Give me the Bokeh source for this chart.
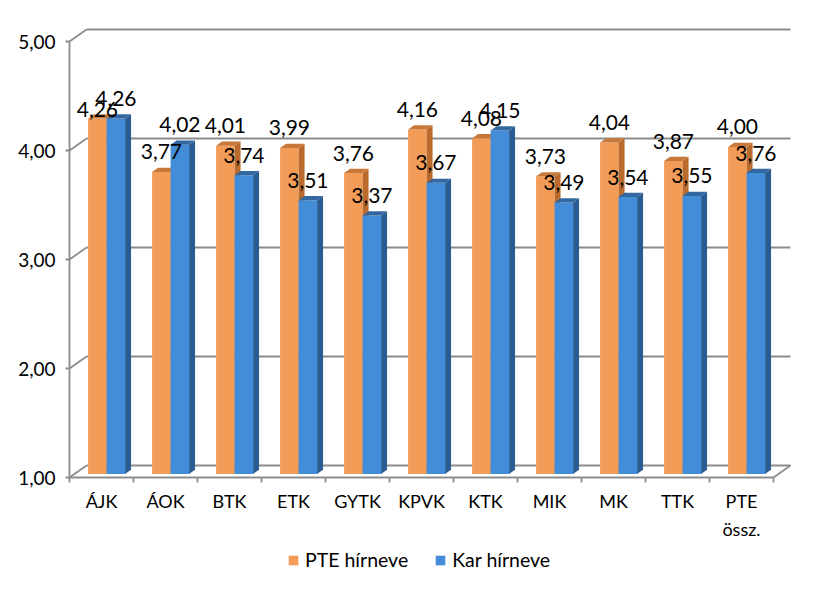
from bokeh.plotting import figure
from bokeh.models import Range1d, FixedTicker, Legend, LegendItem, ColumnDataSource
from bokeh.core.properties import value
from bokeh.embed import file_html
from bokeh.resources import INLINE

# ---- data ----
categories = ["ÁJK", "ÁOK", "BTK", "ETK", "GYTK", "KPVK", "KTK", "MIK", "MK", "TTK", "PTE\nössz."]
pte_hirneve = [4.26, 3.77, 4.01, 3.99, 3.76, 4.16, 4.08, 3.73, 4.04, 3.87, 4.00]
kar_hirneve = [4.26, 4.02, 3.74, 3.51, 3.37, 3.67, 4.15, 3.49, 3.54, 3.55, 3.76]
series_names = ["PTE hírneve", "Kar hírneve"]
y_ticks = [1, 2, 3, 4, 5]
y_tick_labels = ["1,00", "2,00", "3,00", "4,00", "5,00"]

# ---- style / geometry ----
FONT = "Lato"
PX_X = 64.0      # px per category
PX_Y = 109.0     # px per value unit
DEPTH_X = 17 / PX_X
DEPTH_Y = 12 / PX_Y
BAR_FRONT = 0.30   # bar front plane as fraction of box depth
BAR_DEPTH = 0.35   # bar depth as fraction of box depth
BAR_W = 18.5 / PX_X
GRID = "#8C8C8C"
ORANGE = ("#F29C57", "#B96A2C", "#C8793A")   # front, side, top
BLUE = ("#428CD8", "#2A5C92", "#33679F")
LABEL_OFFSET = -20
LABEL_OFFSET_OVERRIDE = {(0, 0): -9}

n = len(categories)
TOP = 24
FRAME_BOTTOM_PX = 585
x0, x1 = -4 / PX_X, n + 38 / PX_X
y1 = 5 + 17 / PX_Y
FW = int(round((x1 - x0) * PX_X))
FH = FRAME_BOTTOM_PX - TOP
y0 = y1 - FH / PX_Y

p = figure(frame_width=FW, frame_height=FH, output_backend="svg", toolbar_location=None,
           x_range=Range1d(x0, x1), y_range=Range1d(y0, y1),
           min_border_left=65, min_border_right=815 - 65 - FW,
           min_border_top=TOP, min_border_bottom=0)
p.outline_line_color = None
p.xgrid.visible = False
p.ygrid.visible = False
p.xaxis.visible = False
p.background_fill_color = "white"

# ---- walls, floor and axes lines ----
lx, ly = [], []
for v in y_ticks:
    lx.append([DEPTH_X, n + DEPTH_X]); ly.append([v + DEPTH_Y, v + DEPTH_Y])   # back wall grid
    lx.append([0, DEPTH_X]); ly.append([v, v + DEPTH_Y])                       # side wall grid
lx.append([n, n + DEPTH_X]); ly.append([1, 1 + DEPTH_Y])                       # floor right edge
lx.append([0, 0]); ly.append([y_ticks[0], y_ticks[-1]])                        # value axis
lx.append([0, n]); ly.append([1, 1])                                           # category axis
for i in range(n + 1):
    lx.append([i, i]); ly.append([1, 1 - 5 / PX_Y])                           # category ticks
p.multi_line(lx, ly, line_color=GRID, line_width=1.8)

# ---- 3D bars ----
fdx, fdy = BAR_FRONT * DEPTH_X, BAR_FRONT * DEPTH_Y
bdx, bdy = BAR_DEPTH * DEPTH_X, BAR_DEPTH * DEPTH_Y
base = 1 + fdy

renderers = []
label_x, label_y, label_t, label_off = [], [], [], []
for s, (vals, cols) in enumerate([(pte_hirneve, ORANGE), (kar_hirneve, BLUE)]):
    fx, fy, sx, sy, tx, ty = [], [], [], [], [], []
    for i, v in enumerate(vals):
        c = i + 0.5 + fdx
        left = c - BAR_W if s == 0 else c
        right = left + BAR_W
        top = v + fdy
        fx.append([left, right, right, left]); fy.append([base, base, top, top])
        sx.append([right, right + bdx, right + bdx, right])
        sy.append([base, base + bdy, top + bdy, top])
        tx.append([left, right, right + bdx, left + bdx])
        ty.append([top, top, top + bdy, top + bdy])
        label_x.append((left + right) / 2)
        label_y.append(top)
        label_t.append(f"{v:.2f}".replace(".", ","))
        label_off.append(LABEL_OFFSET_OVERRIDE.get((s, i), LABEL_OFFSET))
    rf = p.patches(fx, fy, fill_color=cols[0], line_color=None)
    p.patches(sx, sy, fill_color=cols[1], line_color=None)
    p.patches(tx, ty, fill_color=cols[2], line_color=None)
    renderers.append(rf)

src = ColumnDataSource(dict(x=label_x, y=label_y, t=label_t, off=label_off))
p.text("x", "y", text="t", source=src, y_offset="off", text_align="center",
       text_baseline="middle", text_font=value(FONT), text_font_size="21px",
       text_color="black")

# ---- category labels (placed through the x scale, below the category axis) ----
centers = [i + 0.5 for i in range(n)]
p.text(x=centers, y=[y_ticks[0]] * n, text=categories, y_offset=12,
       text_align="center", text_baseline="top", text_font=value(FONT),
       text_font_size="18px", text_line_height=1.3, text_color="black")

# ---- value axis ----
p.yaxis.ticker = FixedTicker(ticks=y_ticks)
p.yaxis.major_label_overrides = {t: l for t, l in zip(y_ticks, y_tick_labels)}
p.yaxis.axis_line_color = None
p.yaxis.major_tick_in = 4
p.yaxis.major_tick_out = 0
p.yaxis.major_tick_line_color = GRID
p.yaxis.major_tick_line_width = 1.8
p.yaxis.minor_tick_line_color = None
p.yaxis.major_label_standoff = 10
p.yaxis.major_label_text_font = FONT
p.yaxis.major_label_text_font_size = "19px"
p.yaxis.major_label_text_color = "black"

legend = Legend(items=[LegendItem(label=series_names[k], renderers=[renderers[k]]) for k in range(2)],
                orientation="horizontal", location=(222, 14),
                border_line_color=None, background_fill_alpha=0,
                label_text_font=FONT, label_text_font_size="19.5px", label_text_color="black",
                label_height=20, glyph_width=12, glyph_height=12, label_standoff=6, spacing=26,
                padding=0, margin=0)
p.add_layout(legend, "center")

open("out.html", "w").write(file_html(p, INLINE))
